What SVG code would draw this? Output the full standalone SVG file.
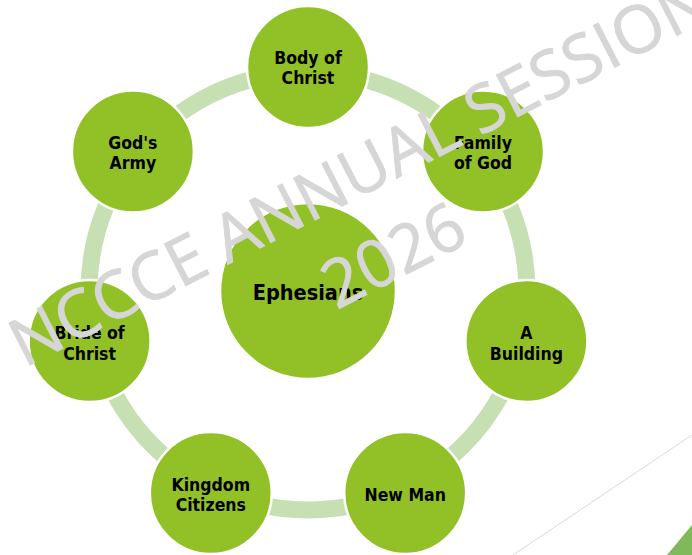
<svg xmlns="http://www.w3.org/2000/svg" width="692" height="555" viewBox="0 0 692 555">
<style>
.node{fill:#92c127;stroke:#ffffff;stroke-width:2.5}
.lbl{font-family:"DejaVu Sans Condensed","DejaVu Sans",sans-serif;font-stretch:condensed;font-weight:bold;font-size:17.5px;fill:#000;text-anchor:middle}
.wm{font-family:"Open Sans","Liberation Sans",sans-serif;font-size:66px;fill:#d6d6d6;stroke:#d6d6d6;stroke-width:0.9px;text-anchor:middle}
</style>
<rect width="692" height="555" fill="#ffffff"/>
<g id="connectors">
<circle cx="308" cy="291" r="219" fill="none" stroke="#c6dfb3" stroke-width="17"/>
</g>
<g id="center">
<circle class="node" cx="308" cy="291" r="88"/>
<text class="lbl" x="308" y="300" style="font-size:21.5px">Ephesians</text>
</g>
<g id="body-of-christ">
<circle class="node" cx="308" cy="67" r="61"/>
<text class="lbl" x="308" y="64">Body of</text>
<text class="lbl" x="308" y="84">Christ</text>
</g>
<g id="family-of-god">
<circle class="node" cx="483" cy="151.5" r="61"/>
<text class="lbl" x="483" y="149">Family</text>
<text class="lbl" x="483" y="169">of God</text>
</g>
<g id="a-building">
<circle class="node" cx="526.4" cy="341" r="61"/>
<text class="lbl" x="526.4" y="339">A</text>
<text class="lbl" x="526.4" y="360">Building</text>
</g>
<g id="new-man">
<circle class="node" cx="405.2" cy="493" r="61"/>
<text class="lbl" x="405.2" y="501">New Man</text>
</g>
<g id="kingdom-citizens">
<circle class="node" cx="210.8" cy="493" r="61"/>
<text class="lbl" x="210.8" y="491">Kingdom</text>
<text class="lbl" x="210.8" y="511">Citizens</text>
</g>
<g id="bride-of-christ">
<circle class="node" cx="89.6" cy="341" r="61"/>
<text class="lbl" x="89.6" y="339">Bride of</text>
<text class="lbl" x="89.6" y="360">Christ</text>
</g>
<g id="gods-army">
<circle class="node" cx="132.9" cy="151.5" r="61"/>
<text class="lbl" x="132.9" y="149">God's</text>
<text class="lbl" x="132.9" y="169">Army</text>
</g>
<g id="watermark" transform="translate(370,192) rotate(-27)">
<text class="wm" x="0" y="0">NCCCE ANNUAL SESSION</text>
<text class="wm" x="-8" y="90">2026</text>
</g>
<g id="decoration">
<line x1="513" y1="555" x2="692" y2="435" stroke="#d9d9d9" stroke-width="1"/>
<polygon points="667,555 692,525 692,555" fill="#7fb95a"/>
</g>
</svg>
